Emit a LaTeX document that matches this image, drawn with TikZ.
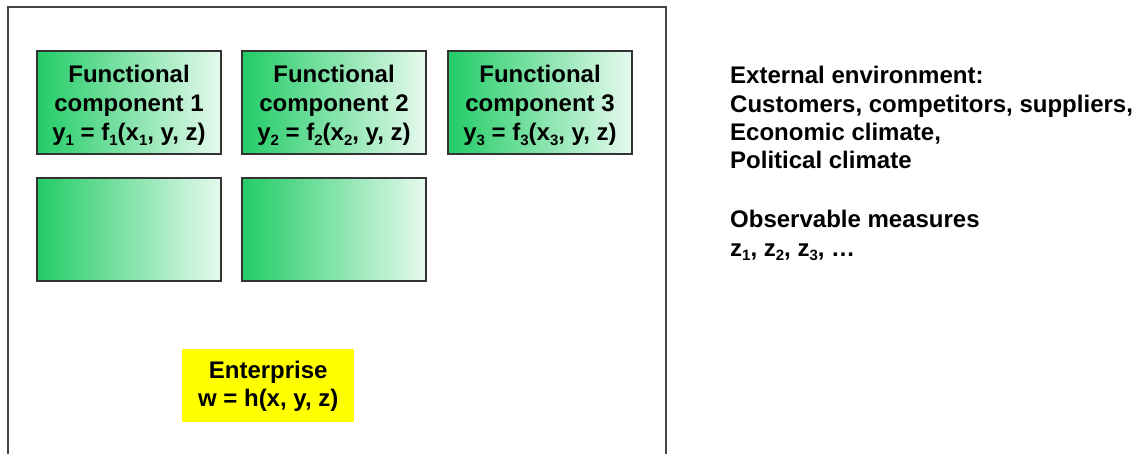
\documentclass[tikz,border=0pt]{standalone}
\usepackage{fontspec}
\setmainfont{Liberation Sans}
% lowered small index, as in y_1
\newcommand{\lowidx}[1]{\raisebox{-4.5pt}{\fontsize{15}{15}\selectfont #1}}
\definecolor{fgreen}{RGB}{34,204,102}
\definecolor{fmint}{RGB}{230,250,238}
\definecolor{framegray}{RGB}{68,68,68}
\definecolor{entyellow}{RGB}{255,255,0}
\begin{document}
\begin{tikzpicture}[x=1pt,y=-1pt,
  font=\fontsize{24}{29}\selectfont\bfseries,
  fcomp/.style={draw=black!80, line width=1.3pt, left color=fgreen, right color=fmint,
    minimum width=184pt, minimum height=103pt, inner sep=0pt, outer sep=0pt,
    anchor=north west},
  ftext/.style={inner sep=0pt, align=center},
  entbox/.style={fill=entyellow, minimum width=172pt, minimum height=73pt,
    inner sep=0pt, anchor=north west},
  enttext/.style={inner sep=0pt, align=center,
    font=\fontsize{24}{28}\selectfont\bfseries},
  envtext/.style={anchor=base west, inner sep=0pt, align=left},
  frameline/.style={draw=framegray, line width=1.4pt}]
\useasboundingbox (0,0) rectangle (1148,453);

% enterprise frame, open at the bottom
\draw[frameline] (8,460) -- (8,7) -- (666,7) -- (666,460);

% functional components
\node[fcomp] (c1) at (37,51) {};
\node[fcomp] (c2) at (242,51) {};
\node[fcomp] (c3) at (448,51) {};
\node[fcomp] (c4) at (37,178) {};
\node[fcomp] (c5) at (242,178) {};
\node[ftext] (t1) at ([yshift=-3pt]c1.center) {Functional\\component 1\\y\lowidx{1} = f\lowidx{1}(x\lowidx{1}, y, z)};
\node[ftext] (t2) at ([yshift=-3pt]c2.center) {Functional\\component 2\\y\lowidx{2} = f\lowidx{2}(x\lowidx{2}, y, z)};
\node[ftext] (t3) at ([yshift=-3pt]c3.center) {Functional\\component 3\\y\lowidx{3} = f\lowidx{3}(x\lowidx{3}, y, z)};

% enterprise function
\node[entbox] (ent) at (182,349) {};
\node[enttext] (entt) at ([yshift=-1pt]ent.center) {Enterprise\\w = h(x, y, z)};

% external environment
\node[envtext] (env1) at (730,83) {External environment:};
\node[envtext] (env2) at (730,112) {Customers, competitors, suppliers,};
\node[envtext] (env3) at (730,140) {Economic climate,};
\node[envtext] (env4) at (730,168) {Political climate};
\node[envtext] (obs) at (730,227) {Observable measures};
\node[envtext] (zs) at (730,256) {z\lowidx{1}, z\lowidx{2}, z\lowidx{3}, \dots};
\end{tikzpicture}
\end{document}
